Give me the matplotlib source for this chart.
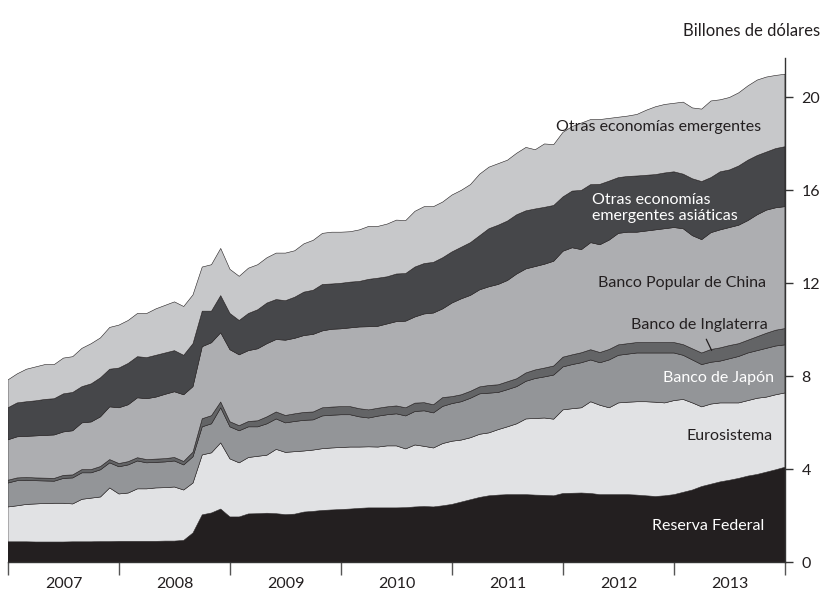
import numpy as np
import matplotlib
matplotlib.use("Agg")
import matplotlib.pyplot as plt

# Monthly data, Jan 2007 .. Jan 2014 (85 points), trillions of USD
months = np.arange(85)
years = [2007, 2008, 2009, 2010, 2011, 2012, 2013]

reserva_federal = [
    0.87, 0.87, 0.87, 0.86, 0.86, 0.86, 0.86, 0.87, 0.87, 0.87, 0.88, 0.88,
    0.89, 0.89, 0.89, 0.89, 0.89, 0.90, 0.90, 0.93, 1.25, 2.03, 2.11, 2.28,
    1.94, 1.94, 2.07, 2.08, 2.10, 2.08, 2.04, 2.06, 2.15, 2.18, 2.22, 2.24,
    2.26, 2.28, 2.31, 2.33, 2.33, 2.33, 2.33, 2.34, 2.37, 2.39, 2.37, 2.42,
    2.48, 2.58, 2.68, 2.78, 2.85, 2.88, 2.90, 2.90, 2.90, 2.88, 2.87, 2.85,
    2.95, 2.96, 2.97, 2.95, 2.90, 2.90, 2.90, 2.90, 2.88, 2.85, 2.82, 2.85,
    2.90, 3.00, 3.10, 3.25, 3.35, 3.45, 3.52, 3.60, 3.70, 3.77, 3.87, 3.97,
    4.08]
eurosistema = [
    1.50, 1.55, 1.61, 1.64, 1.66, 1.67, 1.67, 1.63, 1.83, 1.88, 1.92, 2.31,
    2.04, 2.08, 2.26, 2.26, 2.30, 2.30, 2.33, 2.17, 2.15, 2.58, 2.59, 2.85,
    2.50, 2.33, 2.43, 2.47, 2.50, 2.77, 2.68, 2.69, 2.63, 2.64, 2.66, 2.67,
    2.67, 2.67, 2.64, 2.63, 2.62, 2.67, 2.67, 2.53, 2.67, 2.59, 2.54, 2.68,
    2.72, 2.67, 2.67, 2.72, 2.71, 2.82, 2.92, 3.05, 3.26, 3.30, 3.33, 3.30,
    3.60, 3.64, 3.67, 3.95, 3.85, 3.74, 3.95, 3.98, 4.02, 4.05, 4.06, 4.00,
    4.05, 4.00, 3.75, 3.43, 3.45, 3.40, 3.33, 3.25, 3.25, 3.28, 3.23, 3.23,
    3.20]
banco_japon = [
    1.03, 1.08, 1.04, 1.00, 0.97, 0.95, 1.07, 1.12, 1.14, 1.09, 1.17, 1.08,
    1.17, 1.21, 1.20, 1.12, 1.10, 1.11, 1.12, 1.08, 1.13, 1.21, 1.25, 1.51,
    1.38, 1.38, 1.32, 1.27, 1.35, 1.31, 1.27, 1.30, 1.32, 1.30, 1.41, 1.41,
    1.41, 1.39, 1.30, 1.24, 1.33, 1.34, 1.38, 1.42, 1.44, 1.53, 1.51, 1.60,
    1.62, 1.65, 1.70, 1.74, 1.71, 1.60, 1.60, 1.60, 1.62, 1.72, 1.77, 1.90,
    1.85, 1.90, 1.94, 1.80, 1.83, 2.06, 2.05, 2.07, 2.10, 2.10, 2.12, 2.15,
    2.05, 1.90, 1.85, 1.82, 1.80, 1.80, 1.90, 2.00, 2.05, 2.05, 2.10, 2.10,
    2.07]
banco_inglaterra = [
    0.12, 0.12, 0.12, 0.12, 0.12, 0.12, 0.13, 0.13, 0.14, 0.14, 0.14, 0.14,
    0.14, 0.14, 0.14, 0.14, 0.14, 0.14, 0.15, 0.15, 0.20, 0.35, 0.35, 0.25,
    0.22, 0.22, 0.23, 0.26, 0.30, 0.30, 0.32, 0.33, 0.34, 0.34, 0.35, 0.35,
    0.35, 0.35, 0.35, 0.35, 0.34, 0.34, 0.34, 0.35, 0.36, 0.35, 0.35, 0.38,
    0.30, 0.30, 0.30, 0.30, 0.33, 0.33, 0.34, 0.34, 0.36, 0.37, 0.38, 0.39,
    0.42, 0.42, 0.43, 0.44, 0.44, 0.45, 0.45, 0.45, 0.45, 0.45, 0.45, 0.45,
    0.45, 0.46, 0.48, 0.50, 0.55, 0.57, 0.57, 0.55, 0.55, 0.60, 0.65, 0.68,
    0.70]
banco_popular_china = [
    1.74, 1.77, 1.77, 1.81, 1.84, 1.87, 1.87, 1.90, 2.01, 2.05, 2.14, 2.27,
    2.40, 2.45, 2.58, 2.62, 2.67, 2.77, 2.83, 2.87, 2.82, 3.10, 3.14, 2.98,
    3.10, 3.05, 3.05, 3.10, 3.15, 3.12, 3.24, 3.25, 3.31, 3.34, 3.31, 3.35,
    3.35, 3.39, 3.52, 3.58, 3.53, 3.57, 3.63, 3.73, 3.71, 3.82, 3.95, 3.82,
    4.03, 4.13, 4.13, 4.18, 4.25, 4.32, 4.36, 4.51, 4.48, 4.45, 4.47, 4.51,
    4.56, 4.61, 4.44, 4.61, 4.64, 4.71, 4.80, 4.80, 4.75, 4.80, 4.85, 4.90,
    4.95, 4.99, 4.87, 4.88, 5.03, 5.08, 5.08, 5.10, 5.15, 5.25, 5.30, 5.27,
    5.25]
otras_asiaticas = [
    1.38, 1.46, 1.49, 1.51, 1.55, 1.56, 1.64, 1.65, 1.56, 1.64, 1.68, 1.62,
    1.71, 1.78, 1.77, 1.77, 1.80, 1.78, 1.77, 1.70, 1.85, 1.53, 1.36, 1.60,
    1.56, 1.48, 1.60, 1.68, 1.75, 1.72, 1.70, 1.77, 1.87, 1.90, 2.00, 1.95,
    1.96, 1.97, 1.96, 2.04, 2.07, 2.03, 2.05, 2.05, 2.15, 2.17, 2.18, 2.20,
    2.20, 2.22, 2.27, 2.33, 2.50, 2.55, 2.56, 2.55, 2.50, 2.48, 2.45, 2.40,
    2.34, 2.44, 2.55, 2.50, 2.60, 2.54, 2.40, 2.40, 2.42, 2.40, 2.38, 2.40,
    2.40, 2.35, 2.45, 2.50, 2.37, 2.50, 2.48, 2.55, 2.60, 2.55, 2.50, 2.55,
    2.58]
otras_emergentes = [
    1.20, 1.25, 1.40, 1.46, 1.50, 1.47, 1.54, 1.54, 1.65, 1.73, 1.72, 1.80,
    1.85, 1.85, 1.86, 1.90, 2.00, 2.05, 2.10, 2.10, 2.10, 1.90, 2.00, 2.03,
    1.90, 1.90, 1.95, 1.94, 1.95, 2.00, 2.05, 2.00, 2.08, 2.15, 2.20, 2.23,
    2.20, 2.17, 2.22, 2.28, 2.23, 2.27, 2.32, 2.28, 2.40, 2.45, 2.40, 2.40,
    2.45, 2.45, 2.50, 2.65, 2.65, 2.65, 2.62, 2.65, 2.73, 2.55, 2.73, 2.62,
    2.78, 2.78, 2.90, 2.80, 2.79, 2.70, 2.60, 2.60, 2.65, 2.80, 2.92, 2.95,
    2.95, 3.10, 3.05, 3.12, 3.30, 3.10, 3.12, 3.15, 3.20, 3.25, 3.23, 3.15,
    3.12]

series = [reserva_federal, eurosistema, banco_japon, banco_inglaterra,
          banco_popular_china, otras_asiaticas, otras_emergentes]
colors = ["#231f20", "#e1e2e4", "#939598", "#636466",
          "#adaeb1", "#46474a", "#c7c8ca"]

x = years[0] + months / 12.0

plt.rcParams["font.family"] = ["Lato", "DejaVu Sans"]

fig = plt.figure(figsize=(8.24, 5.95), dpi=100)
ax = fig.add_axes([8 / 824, 1 - 562 / 595, 777 / 824, (562 - 58) / 595])

ax.stackplot(x, *series, colors=colors, edgecolors=colors, linewidth=0.4)

ax.set_xlim(2007, 2014)
ax.set_ylim(0, 21.7)

for s in ["left", "top"]:
    ax.spines[s].set_visible(False)
for s in ["right", "bottom"]:
    ax.spines[s].set_color("#333333")
    ax.spines[s].set_linewidth(1.0)

ax.yaxis.tick_right()
ax.set_yticks([0, 4, 8, 12, 16, 20])
ax.tick_params(axis="y", direction="out", length=6, width=1.0, color="#333333",
               pad=6, labelsize=11.5, labelcolor="#231f20")

ax.set_xticks(list(range(2007, 2015)))
ax.set_xticklabels([])
ax.set_xticks([y + 0.5 for y in years], minor=True)
ax.set_xticklabels([str(y) for y in years], minor=True)
ax.tick_params(axis="x", which="major", direction="out", length=9, width=1.0,
               color="#555555")
ax.tick_params(axis="x", which="minor", length=0, pad=11, labelsize=11.5,
               labelcolor="#231f20")

fig.text(820 / 824, 1 - 31 / 595, "Billones de dólares", ha="right",
         va="center", fontsize=12, color="#231f20")

lab = dict(fontsize=11.5, va="center")
ax.text(2012.865, 18.75, "Otras economías emergentes", ha="center",
        color="#231f20", **lab)
ax.text(2012.26, 15.24, "Otras economías\nemergentes asiáticas", ha="left",
        color="white", linespacing=1.2, **lab)
ax.text(2013.07, 12.03, "Banco Popular de China", ha="center",
        color="#231f20", **lab)
ax.text(2013.23, 10.2, "Banco de Inglaterra", ha="center",
        color="#231f20", **lab)
ax.annotate("", xy=(2013.35, 9.0), xytext=(2013.28, 9.7),
            arrowprops=dict(arrowstyle="-", color="#231f20", lw=0.9))
ax.text(2013.40, 7.93, "Banco de Japón", ha="center", color="white", **lab)
ax.text(2013.505, 5.43, "Eurosistema", ha="center", color="#231f20", **lab)
ax.text(2013.31, 1.55, "Reserva Federal", ha="center", color="white", **lab)

fig.savefig("out.png", dpi=100)
